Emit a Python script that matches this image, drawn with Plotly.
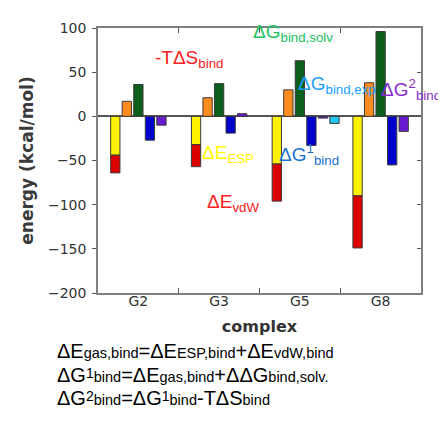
import plotly.graph_objects as go

complexes = ["G2", "G3", "G5", "G8"]
dE_esp = [-44, -32, -54, -90]
dE_vdw = [-20, -25, -42, -59]
minus_TdS = [17, 21, 30, 38]
dG_solv = [36, 37, 63, 96]
dG1_bind = [-27, -19, -33, -55]
dG2_bind = [-10, 3, -2, -17]
dG_exp = [None, None, -8, None]

W = 0.115
def off(i):
    return -0.5 + i / 7 + (1 / 7 - W) / 2

line = dict(color="#3a3a3a", width=1)
fig = go.Figure()
fig.add_bar(x=complexes, y=dE_esp, offset=off(1), width=W, marker=dict(color="#fff200", line=line))
fig.add_bar(x=complexes, y=dE_vdw, base=dE_esp, offset=off(1), width=W, marker=dict(color="#dd0000", line=line))
fig.add_bar(x=complexes, y=minus_TdS, offset=off(2), width=W, marker=dict(color="#ff8c1e", line=line))
fig.add_bar(x=complexes, y=dG_solv, offset=off(3), width=W, marker=dict(color="#0b5e1c", line=line))
fig.add_bar(x=complexes, y=dG1_bind, offset=off(4), width=W, marker=dict(color="#0000cc", line=line))
fig.add_bar(x=complexes, y=dG2_bind, offset=off(5), width=W, marker=dict(color="#6a1ad0", line=line))
fig.add_bar(x=complexes, y=dG_exp, offset=off(6), width=W, marker=dict(color="#22c8f0", line=line))
fig.add_scatter(x=[], y=[], yaxis="y2", showlegend=False)

L, R, T, B = 90, 413, 17, 285
def px(x): return (x - L) / (R - L)
def py(y): return (B - y) / (B - T)

labels = [
    ("-TΔS<sub>bind</sub>", 155, 57.5, "#ff2020"),
    ("ΔG<sub>bind,solv</sub>", 253, 31.5, "#20c060"),
    ("ΔG<sub>bind,exp</sub>", 298, 84, "#1aa0ff"),
    ("ΔG<sup>2</sup><sub>bind</sub>", 381, 88.5, "#8a2ed0"),
    ("ΔE<sub>ESP</sub>", 202, 153.5, "#ffff00"),
    ("ΔG<sup>1</sup><sub>bind</sub>", 279, 153.5, "#1a70d0"),
    ("ΔE<sub>vdW</sub>", 207, 202.5, "#ff2020"),
]
anns = []
for t, x, y, c in labels:
    anns.append(dict(text=t, x=px(x - 10), y=py(y - 9), xref="paper", yref="paper", xanchor="left",
                     yanchor="middle", showarrow=False,
                     font=dict(size=19, color=c, family="Liberation Sans, Arial, sans-serif")))

def sb(s):
    return '<span style="font-size:14.5px">' + s + '</span>'
def sp(s):
    return '<span style="font-size:14px;baseline-shift:4.5px">' + s + '</span>'

eqs = [
    ("ΔE" + sb("gas,bind") + "=ΔE" + sb("ESP,bind") + "+ΔE" + sb("vdW,bind"), 357),
    ("ΔG" + sp("1") + sb("bind") + "=ΔE" + sb("gas,bind") + "+ΔΔG" + sb("bind,solv."), 381),
    ("ΔG" + sp("2") + sb("bind") + "=ΔG" + sp("1") + sb("bind") + "-TΔS" + sb("bind"), 404),
]
for t, y in eqs:
    anns.append(dict(text=t, x=px(47), y=py(y), xref="paper", yref="paper", xanchor="left",
                     yanchor="bottom", showarrow=False,
                     font=dict(size=20, color="#000000", family="Liberation Sans, Arial, sans-serif")))

tickfont = dict(size=14, color="#333333", family="DejaVu Sans, sans-serif")
fig.update_layout(
    width=446, height=423, margin=dict(l=L, r=446 - R, t=T, b=423 - B),
    paper_bgcolor="white", plot_bgcolor="white", showlegend=False,
    font=dict(family="DejaVu Sans, sans-serif", color="#333333"),
    annotations=anns,
    xaxis=dict(range=[-0.5, 3.5], showline=True, linecolor="#808080", linewidth=1.5, mirror="ticks",
               ticks="inside", ticklen=5, tickcolor="#555555", tickson="boundaries",
               tickfont=tickfont,
               ticklabelstandoff=-6,
               title=dict(text="<b>complex</b>", font=dict(size=16, color="#333333"), standoff=13)),
    yaxis=dict(range=[-200, 100], dtick=50, showline=True, linecolor="#808080", linewidth=1.5, mirror=True,
               ticks="outside", ticklen=4, tickcolor="#555555", zeroline=True, zerolinecolor="#555555",
               zerolinewidth=1.5, showgrid=False, tickfont=tickfont, ticklabelstandoff=3,
               title=dict(text="<b>energy (kcal/mol)</b>", font=dict(size=17, color="#3a3a3a"), standoff=10)),
    yaxis2=dict(range=[-200, 100], dtick=50, overlaying="y", side="right", ticks="inside", ticklen=4,
                tickcolor="#555555", showticklabels=False, showgrid=False, zeroline=False, showline=False),
)
fig.write_html("out.html")
